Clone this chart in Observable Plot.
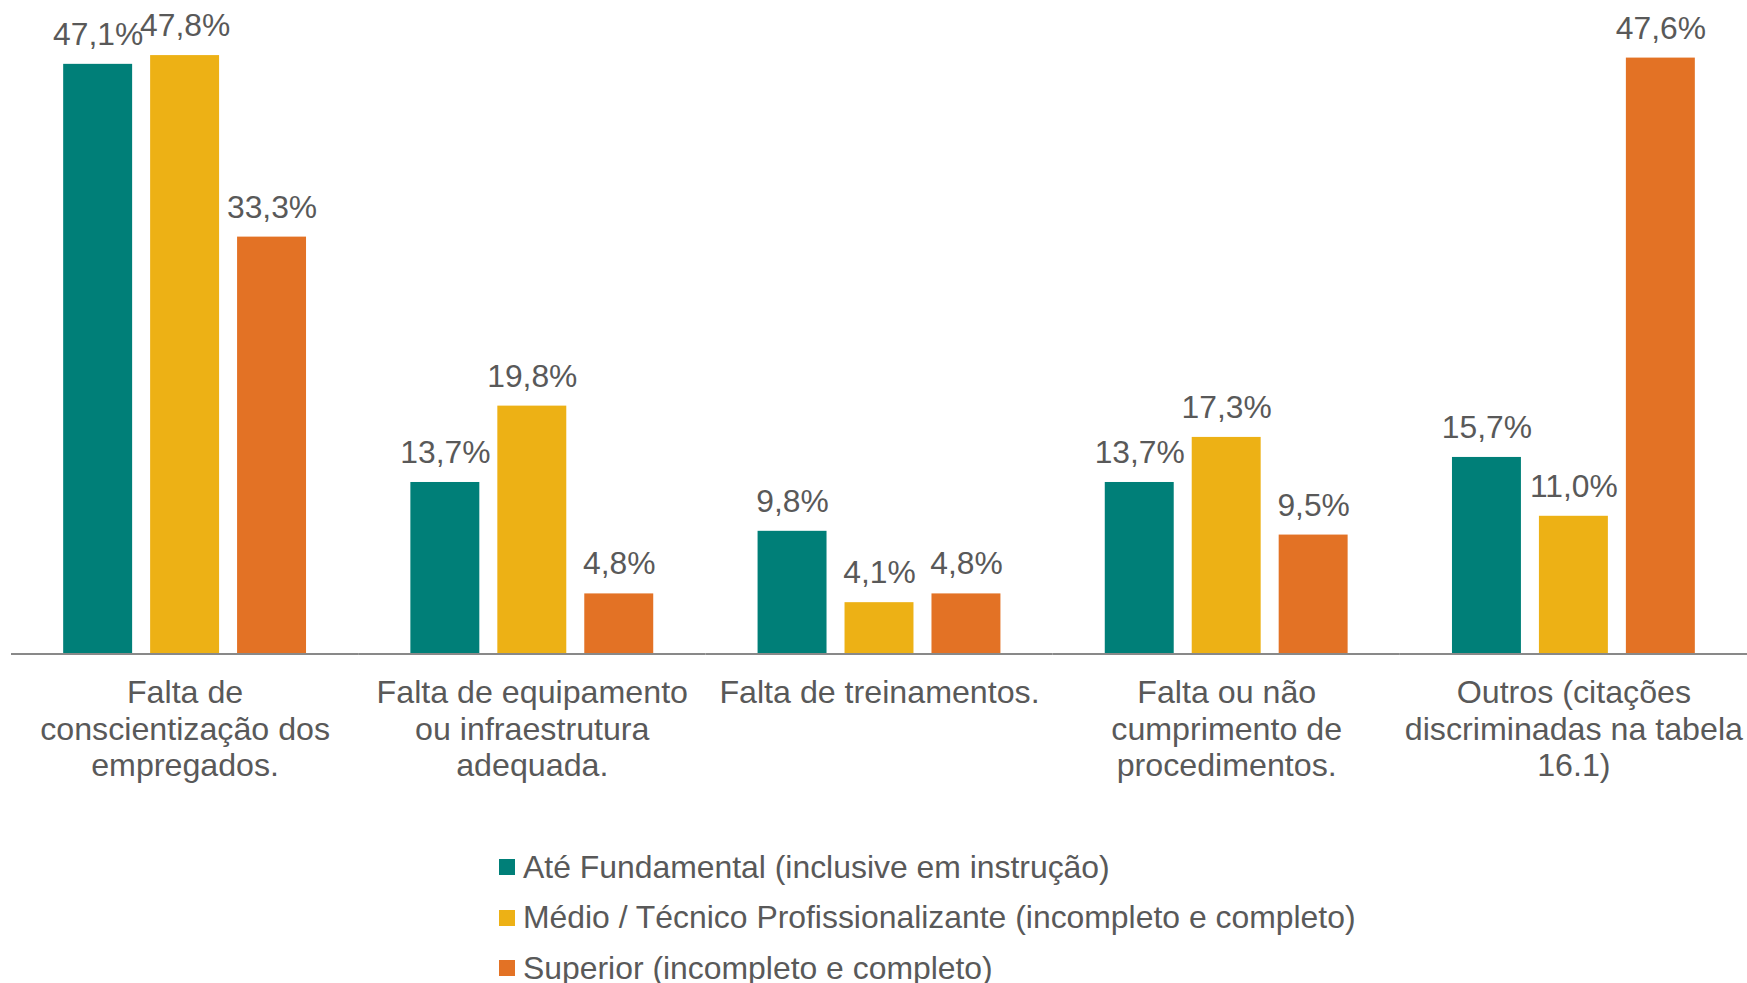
<!DOCTYPE html>
<html>
<head>
<meta charset="utf-8">
<script src="https://cdn.jsdelivr.net/npm/d3@7"></script>
<script src="https://cdn.jsdelivr.net/npm/@observablehq/plot@0.6"></script>
<style>
  html, body { margin: 0; padding: 0; background: #fff; }
  body { width: 1747px; height: 983px; overflow: hidden; font-family: "Liberation Sans", Arial, sans-serif; }
  #legend { padding-top: 41.75px; margin-left: 499px; }
  .item { height: 50.5px; display: flex; align-items: center; font-size: 31.9px; color: #595959; white-space: nowrap; }
  .sw { width: 16px; height: 16px; margin-right: 8px; flex: none; }
</style>
</head>
<body>
<div id="chart"></div>
<div id="legend"></div>
<script>
const categories = [
  "Falta de\nconscientização dos\nempregados.",
  "Falta de equipamento\nou infraestrutura\nadequada.",
  "Falta de treinamentos.",
  "Falta ou não\ncumprimento de\nprocedimentos.",
  "Outros (citações\ndiscriminadas na tabela\n16.1)"
];
const series = [
  "Até Fundamental (inclusive em instrução)",
  "Médio / Técnico Profissionalizante (incompleto e completo)",
  "Superior (incompleto e completo)"
];
const fundamental = [47.1, 13.7, 9.8, 13.7, 15.7];
const medio = [47.8, 19.8, 4.1, 17.3, 11.0];
const superior = [33.3, 4.8, 4.8, 9.5, 47.6];
const colors = ["#007F78", "#EDB115", "#E37225"];

const seriesValues = [fundamental, medio, superior];
const data = [];
categories.forEach((c, i) => {
  series.forEach((s, j) => data.push({category: c, series: s, value: seriesValues[j][i]}));
});
const fmt = v => v.toFixed(1).replace(".", ",") + "%";
const font = "'Liberation Sans', Arial, sans-serif";

const chart = Plot.plot({
  width: 1747,
  height: 800,
  marginLeft: 11,
  marginRight: 0,
  marginTop: 0,
  marginBottom: 146.5,
  style: {fontFamily: font, background: "#fff"},
  fx: {domain: categories, padding: 0, round: false},
  x: {domain: series, paddingInner: 0.207, paddingOuter: 0.6, round: false, axis: null},
  y: {domain: [0, 52.2], axis: null},
  color: {domain: series, range: colors},
  marks: [
    Plot.barY(data, {fx: "category", x: "series", y: "value", fill: "series"}),
    Plot.ruleY([0], {stroke: "#898989", strokeWidth: 2}),
    Plot.text(data, {fx: "category", x: "series", y: "value", text: d => fmt(d.value),
      lineAnchor: "bottom", dy: -19.5, fontSize: 31.8, fill: "#595959"}),
    Plot.axisFx({anchor: "bottom", tickSize: 0, tickPadding: 22.5, label: null,
      fontSize: 32.2, lineHeight: 1.145, fill: "#595959", textOverflow: null, lineWidth: Infinity})
  ]
});
document.getElementById("chart").appendChild(chart);

const legend = document.getElementById("legend");
series.forEach((s, j) => {
  const row = document.createElement("div");
  row.className = "item";
  const sw = document.createElement("span");
  sw.className = "sw";
  sw.style.background = colors[j];
  row.appendChild(sw);
  row.appendChild(document.createTextNode(s));
  legend.appendChild(row);
});
</script>
</body>
</html>
